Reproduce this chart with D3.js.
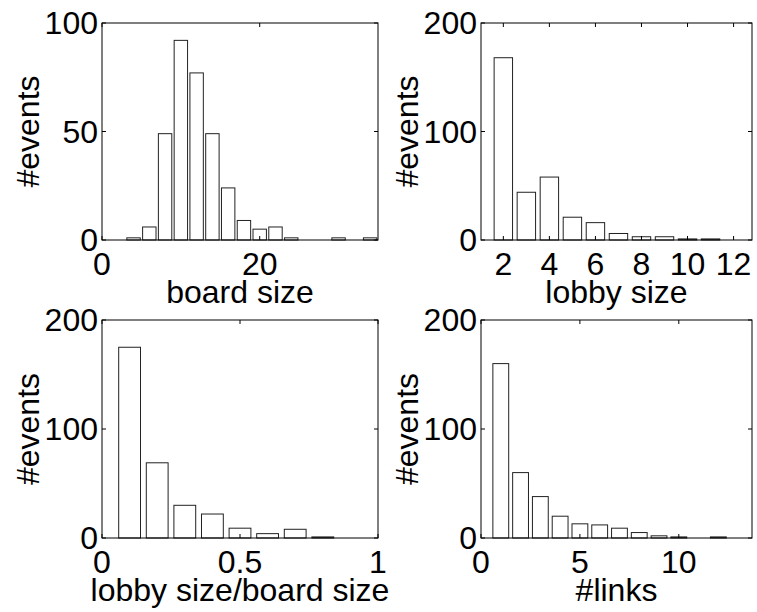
<!DOCTYPE html>
<html>
<head>
<meta charset="utf-8">
<script src="https://cdn.jsdelivr.net/npm/d3@7"></script>
<style>
  body { margin: 0; background: #fff; }
  text { font-family: "Liberation Sans", Arial, sans-serif; fill: #000; }
</style>
</head>
<body>
<svg id="chart" width="757" height="612"></svg>
<script>
// board size histogram
var boardBins = [4,6,8,10,12,14,16,18,20,22,24,26,28,30,32,34];
var boardCounts = [1,6,49,92,77,49,24,9,5,6,1,0,0,1,0,1];
// lobby size histogram
var lobbyBins = [2,3,4,5,6,7,8,9,10,11,12];
var lobbyCounts = [168,44,58,21,16,6,3,3,1,1,0];
// lobby size / board size
var ratioBins = [0.1,0.2,0.3,0.4,0.5,0.6,0.7,0.8,0.9,1.0];
var ratioCounts = [175,69,30,22,9,4,8,1,0,0];
// links
var linkBins = [1,2,3,4,5,6,7,8,9,10,11,12,13];
var linkCounts = [160,60,38,20,13,12,9,5,2,1,0,1,0];

var panels = [
  {bins: boardBins, counts: boardCounts, xdom: [0, 35], xticks: [0, 20], ydom: [0, 100], yticks: [0, 50, 100],
   bw: 1.7, label: "board size", box: [102, 23, 378, 240]},
  {bins: lobbyBins, counts: lobbyCounts, xdom: [1.03, 12.8], xticks: [2,4,6,8,10,12], ydom: [0, 200], yticks: [0, 100, 200],
   bw: 0.8, label: "lobby size", box: [481, 23, 752, 240]},
  {bins: ratioBins, counts: ratioCounts, xdom: [0, 1], xticks: [0, 0.5, 1], ydom: [0, 200], yticks: [0, 100, 200],
   bw: 0.079, label: "lobby size/board size", box: [102, 320, 378, 538]},
  {bins: linkBins, counts: linkCounts, xdom: [0, 13.7], xticks: [0, 5, 10], ydom: [0, 200], yticks: [0, 100, 200],
   bw: 0.8, label: "#links", box: [481, 320, 752, 538]}
];

var svg = d3.select("#chart");
var fs = "32px";

panels.forEach(function(p) {
  var l = p.box[0], t = p.box[1], r = p.box[2], b = p.box[3];
  var x = d3.scaleLinear().domain(p.xdom).range([l, r]);
  var y = d3.scaleLinear().domain(p.ydom).range([b, t]);
  var g = svg.append("g");

  g.selectAll("rect.bar")
    .data(p.bins)
    .enter().append("rect")
      .attr("class", "bar")
      .attr("x", function(d) { return x(d - p.bw / 2); })
      .attr("width", function(d) { return x(d + p.bw / 2) - x(d - p.bw / 2); })
      .attr("y", function(d, i) { return y(p.counts[i]); })
      .attr("height", function(d, i) { return b - y(p.counts[i]); })
      .attr("fill", "#fff")
      .attr("stroke", "#222")
      .attr("stroke-width", 1);

  // box
  g.append("rect")
    .attr("x", l).attr("y", t).attr("width", r - l).attr("height", b - t)
    .attr("fill", "none").attr("stroke", "#000").attr("stroke-width", 1);

  // inward ticks (matlab style), bottom/top and left/right
  var tl = 4;
  p.xticks.forEach(function(v) {
    g.append("line").attr("x1", x(v)).attr("x2", x(v)).attr("y1", b).attr("y2", b - tl).attr("stroke", "#000");
    g.append("line").attr("x1", x(v)).attr("x2", x(v)).attr("y1", t).attr("y2", t + tl).attr("stroke", "#000");
    g.append("text").attr("x", x(v)).attr("y", b + 35).attr("text-anchor", "middle")
      .style("font-size", fs).text(v);
  });
  p.yticks.forEach(function(v) {
    g.append("line").attr("x1", l).attr("x2", l + tl).attr("y1", y(v)).attr("y2", y(v)).attr("stroke", "#000");
    g.append("line").attr("x1", r).attr("x2", r - tl).attr("y1", y(v)).attr("y2", y(v)).attr("stroke", "#000");
    g.append("text").attr("x", l - 4).attr("y", y(v) + 11).attr("text-anchor", "end")
      .style("font-size", fs).text(v);
  });

  g.append("text").attr("x", (l + r) / 2).attr("y", b + 63).attr("text-anchor", "middle")
    .style("font-size", fs).text(p.label);
  g.append("text")
    .attr("transform", "translate(" + (l - 63) + "," + ((t + b) / 2) + ") rotate(-90)")
    .attr("text-anchor", "middle").style("font-size", fs).text("#events");
});
</script>
</body>
</html>
